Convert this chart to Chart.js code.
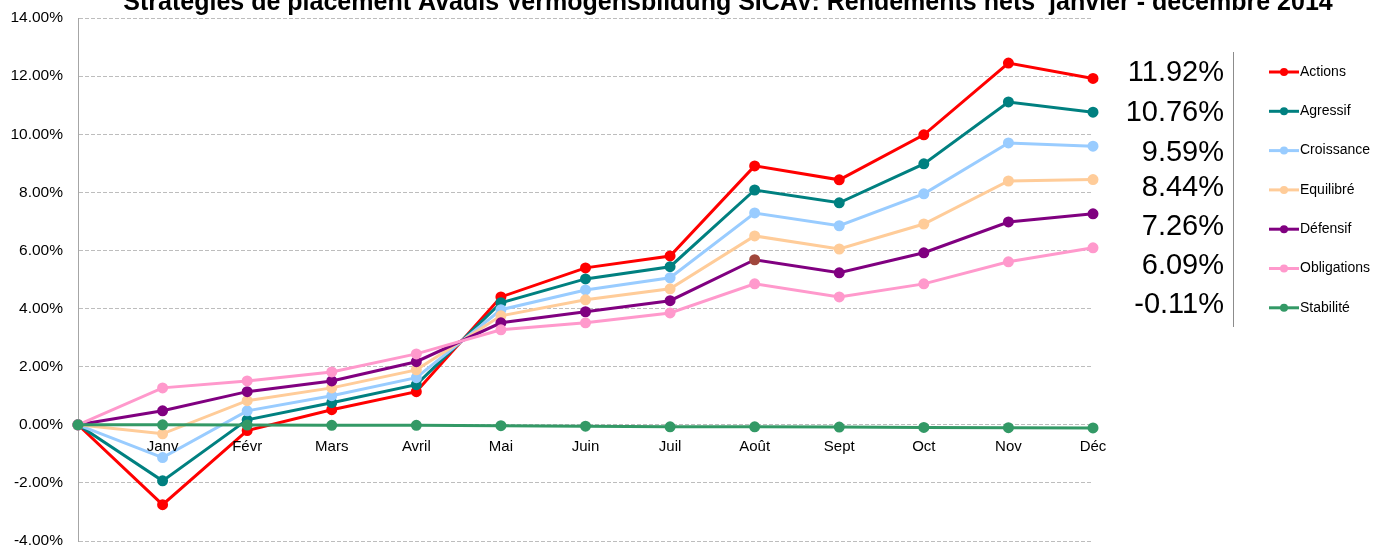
<!DOCTYPE html>
<html>
<head>
  <title>Avadis Vermögensbildung SICAV 2014</title>
  <script src="https://cdn.jsdelivr.net/npm/chart.js"></script>
  <style>
    html, body { margin: 0; padding: 0; background: #fff; overflow: hidden; }
    #wrap { width: 1378px; height: 548px; }
  </style>
</head>
<body>
  <div id="wrap"><canvas id="chartRendement"></canvas></div>

  <script>
    const titre = 'Stratégies de placement Avadis Vermögensbildung SICAV: Rendements nets  janvier - décembre 2014';
    const mois = ['', 'Janv', 'Févr', 'Mars', 'Avril', 'Mai', 'Juin', 'Juil', 'Août', 'Sept', 'Oct', 'Nov', 'Déc'];
    const strategies = ['Actions', 'Agressif', 'Croissance', 'Equilibré', 'Défensif', 'Obligations', 'Stabilité'];
    const rendementsFinaux = ['11.92%', '10.76%', '9.59%', '8.44%', '7.26%', '6.09%', '-0.11%'];

    const actions     = [0, -2.75, -0.20, 0.52, 1.14, 4.40, 5.40, 5.81, 8.91, 8.43, 9.98, 12.45, 11.92];
    const agressif    = [0, -1.93, 0.17, 0.76, 1.38, 4.20, 5.02, 5.44, 8.08, 7.64, 8.98, 11.11, 10.76];
    const croissance  = [0, -1.13, 0.48, 1.00, 1.62, 3.96, 4.64, 5.06, 7.29, 6.85, 7.95, 9.70, 9.59];
    const equilibre   = [0, -0.31, 0.83, 1.27, 1.89, 3.75, 4.30, 4.68, 6.50, 6.05, 6.91, 8.39, 8.44];
    const defensif    = [0, 0.48, 1.14, 1.51, 2.17, 3.51, 3.89, 4.27, 5.68, 5.23, 5.92, 6.98, 7.26];
    const obligations = [0, 1.27, 1.51, 1.82, 2.44, 3.27, 3.51, 3.85, 4.85, 4.40, 4.85, 5.61, 6.09];
    const stabilite   = [0, 0.00, -0.01, -0.02, -0.02, -0.03, -0.05, -0.07, -0.07, -0.08, -0.09, -0.10, -0.11];

    const series = [actions, agressif, croissance, equilibre, defensif, obligations, stabilite];
    const couleurs = ['#ff0000', '#008080', '#99ccff', '#ffcc99', '#800080', '#ff99cc', '#339966'];

    const datasets = series.map((vals, i) => {
      let pointCol = couleurs[i];
      if (strategies[i] === 'Défensif') {
        pointCol = vals.map((v, j) => j === 8 ? '#a0473c' : couleurs[i]);
      }
      return {
        label: strategies[i],
        data: vals,
        borderColor: couleurs[i],
        backgroundColor: couleurs[i],
        pointBackgroundColor: pointCol,
        pointBorderColor: pointCol,
        borderWidth: 3,
        pointRadius: 4,
        pointHoverRadius: 4,
        tension: 0,
        order: series.length - i
      };
    });

    // titre, étiquettes des mois, valeurs finales et légende
    const decor = {
      id: 'decor',
      afterDraw(chart) {
        const ctx = chart.ctx;
        const x = chart.scales.x, y = chart.scales.y;
        ctx.save();

        // titre (coupé en haut comme l'original)
        ctx.fillStyle = '#000';
        ctx.font = 'bold 22px "Liberation Sans", Arial, sans-serif';
        const w = ctx.measureText(titre).width;
        const taille = 22 * 1210 / w;
        ctx.font = 'bold ' + taille.toFixed(2) + 'px "Liberation Sans", Arial, sans-serif';
        ctx.textAlign = 'center';
        ctx.textBaseline = 'alphabetic';
        ctx.fillText(titre, 728, 10);

        // mois posés sous la ligne 0
        ctx.font = '15px "Liberation Sans", Arial, sans-serif';
        const y0 = y.getPixelForValue(0);
        mois.forEach((m, i) => {
          if (!m) return;
          ctx.fillText(m, x.getPixelForValue(i), y0 + 26);
        });

        // valeurs finales en grand
        ctx.font = '29px "Liberation Sans", Arial, sans-serif';
        ctx.textAlign = 'right';
        ctx.textBaseline = 'middle';
        const rangs = [73, 113, 153, 188, 227, 266, 305];
        rendementsFinaux.forEach((t, i) => ctx.fillText(t, 1224, rangs[i]));

        ctx.strokeStyle = '#8c8c8c';
        ctx.lineWidth = 1;
        ctx.beginPath();
        ctx.moveTo(1233.5, 52);
        ctx.lineTo(1233.5, 327);
        ctx.stroke();

        // légende
        ctx.font = '14px "Liberation Sans", Arial, sans-serif';
        ctx.textAlign = 'left';
        strategies.forEach((s, i) => {
          const ly = 72 + i * 39.3;
          ctx.strokeStyle = couleurs[i];
          ctx.fillStyle = couleurs[i];
          ctx.lineWidth = 3;
          ctx.beginPath();
          ctx.moveTo(1269, ly);
          ctx.lineTo(1299, ly);
          ctx.stroke();
          ctx.beginPath();
          ctx.arc(1284, ly, 4, 0, Math.PI * 2);
          ctx.fill();
          ctx.fillStyle = '#000';
          ctx.fillText(s, 1300, ly);
        });
        ctx.restore();
      }
    };

    const ctx = document.getElementById('chartRendement').getContext('2d');
    new Chart(ctx, {
      type: 'line',
      data: { labels: mois, datasets: datasets },
      options: {
        responsive: true,
        maintainAspectRatio: false,
        animation: false,
        layout: { padding: { top: 18, right: 285, bottom: 0, left: 0 } },
        plugins: {
          legend: { display: false },
          title: { display: false },
          tooltip: { enabled: false }
        },
        scales: {
          x: {
            display: false,
            offset: false
          },
          y: {
            min: -4,
            max: 14,
            ticks: {
              stepSize: 2,
              padding: 15,
              color: '#000',
              font: { family: '"Liberation Sans", Arial, sans-serif', size: 15.5 },
              callback: v => v.toFixed(2) + '%'
            },
            grid: {
              color: '#bdbdbd',
              lineWidth: 1,
              drawTicks: false
            },
            border: { display: true, color: '#a6a6a6', dash: [4, 2] },
            afterFit(s) {
              s.width = 78;
              s.paddingTop = 0;
              s.paddingBottom = 0;
            }
          }
        }
      },
      plugins: [decor]
    });
  </script>
</body>
</html>
